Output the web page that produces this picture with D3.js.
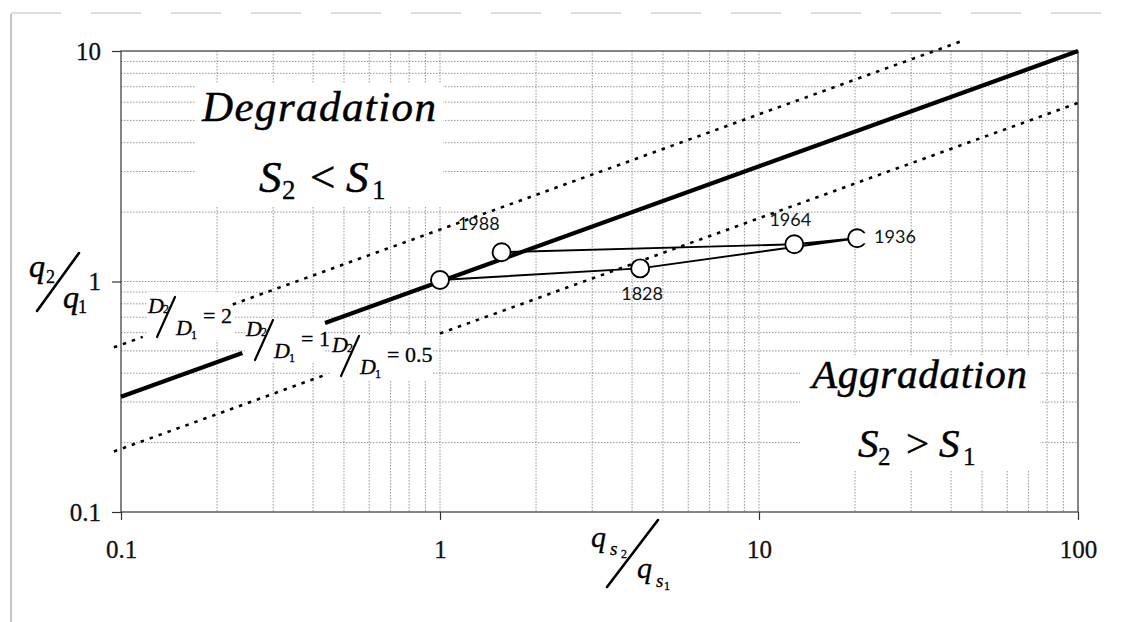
<!DOCTYPE html>
<html><head><meta charset="utf-8">
<script src="https://cdn.jsdelivr.net/npm/d3@7"></script>
<style>
html,body{margin:0;padding:0;background:#fff;}
svg{display:block;}
</style></head>
<body>
<svg id="chart" width="1130" height="622"></svg>
<script>
// ---------------- data ----------------
const xTickValues = [0.1, 1, 10, 100];
const xTickLabels = ["0.1", "1", "10", "100"];
const yTickValues = [0.1, 1, 10];
const yTickLabels = ["0.1", "1", "10"];

// observed points (path order)
const pointYears = ["", "1828", "1936", "1964", "1988"];
const qsRatio    = [1.0, 4.24, 20.3, 12.9, 1.56];   // q_s2 / q_s1
const qRatio     = [1.015, 1.14, 1.54, 1.45, 1.34]; // q2 / q1

// reference lines D2/D1 = 2, 1, 0.5 : segment end points [qs ratio, q ratio]
const lineRatios = [2, 1, 0.5];
const lineSegments = [
  [[[0.095, 0.518], [0.117, 0.575]], [[0.224, 0.795], [43.5, 11.08]]],
  [[[0.1, 0.316], [0.24, 0.49]], [[0.436, 0.66], [100, 10]]],
  [[[0.095, 0.183], [0.436, 0.393]], [[1, 0.595], [100, 5.95]]]
];

// ---------------- setup ----------------
const svg = d3.select("#chart");
const x = d3.scaleLog().domain([0.1, 100]).range([121, 1078]);
const y = d3.scaleLog().domain([0.1, 10]).range([512, 51]);
const serif = '"Liberation Serif","Times New Roman","DejaVu Serif",serif';

// outer scanned frame
svg.append("line").attr("x1", 11).attr("x2", 11).attr("y1", 14).attr("y2", 622)
  .attr("stroke", "#888").attr("stroke-width", 1);
svg.append("line").attr("x1", 11).attr("x2", 1130).attr("y1", 13).attr("y2", 13)
  .attr("stroke", "#bbb").attr("stroke-width", 1).attr("stroke-dasharray", "50,30");

// grid
const grid = svg.append("g");
const xGrid = x.ticks().filter(v => v > 0.1 + 1e-9 && v < 100 - 1e-9);
const yGrid = y.ticks().filter(v => v > 0.1 + 1e-9 && v < 10 - 1e-9);
grid.selectAll("line.vx").data(xGrid).join("line")
  .attr("x1", d => x(d)).attr("x2", d => x(d)).attr("y1", y(10)).attr("y2", y(0.1))
  .attr("stroke", "#8a8a8a").attr("stroke-width", 0.9).attr("stroke-dasharray", "1.5,1.5");
grid.selectAll("line.hy").data(yGrid).join("line")
  .attr("y1", d => y(d)).attr("y2", d => y(d)).attr("x1", x(0.1)).attr("x2", x(100))
  .attr("stroke", "#8a8a8a").attr("stroke-width", 0.9).attr("stroke-dasharray", "1.5,1.5");

// white label backgrounds that interrupt the grid
const boxes = [
  [195, 83, 248, 123],   // Degradation
  [800, 355, 240, 115],  // Aggradation
  [147, 292, 88, 48],    // D=2 label
  [245, 318, 80, 45],    // D=1 label
  [331, 335, 101, 46]    // D=0.5 label
];
svg.append("g").selectAll("rect").data(boxes).join("rect")
  .attr("x", d => d[0]).attr("y", d => d[1]).attr("width", d => d[2]).attr("height", d => d[3])
  .attr("fill", "#fff");

// plot border
svg.append("rect").attr("x", x(0.1)).attr("y", y(10))
  .attr("width", x(100) - x(0.1)).attr("height", y(0.1) - y(10))
  .attr("fill", "none").attr("stroke", "#444").attr("stroke-width", 1.3);

// axes
const yAxis = d3.axisLeft(y).tickValues(yTickValues)
  .tickFormat((d, i) => yTickLabels[i]).tickSize(9).tickSizeOuter(0).tickPadding(11);
const gy = svg.append("g").attr("transform", `translate(${x(0.1)},0)`).call(yAxis);
const xAxis = d3.axisBottom(x).tickValues(xTickValues)
  .tickFormat((d, i) => xTickLabels[i]).tickSize(8).tickSizeOuter(0).tickPadding(20);
const gx = svg.append("g").attr("transform", `translate(0,${y(0.1)})`).call(xAxis);
[gx, gy].forEach(g => {
  g.attr("font-family", null).attr("font-size", null);
  g.select(".domain").remove();
  g.selectAll(".tick line").attr("stroke", "#333").attr("stroke-width", 1.2);
  g.selectAll(".tick text").style("font-family", serif).style("font-size", "25px")
    .attr("fill", "#111").attr("stroke", "#111").attr("stroke-width", 0.3);
});

// reference lines
const segLine = d3.line().x(d => x(d[0])).y(d => y(d[1]));
lineRatios.forEach((r, i) => {
  svg.append("g").selectAll("path").data(lineSegments[i]).join("path")
    .attr("d", segLine)
    .attr("fill", "none").attr("stroke", "#000")
    .attr("stroke-width", r === 1 ? 4.2 : 2.6)
    .attr("stroke-dasharray", r === 1 ? null : "3.5,6");
});

// observed path
const pts = pointYears.map((yr, i) => ({year: yr, x: qsRatio[i], y: qRatio[i]}));
svg.append("path").datum(pts)
  .attr("d", d3.line().x(d => x(d.x)).y(d => y(d.y)))
  .attr("fill", "none").attr("stroke", "#000").attr("stroke-width", 1.9);
svg.append("g").selectAll("circle").data(pts).join("circle")
  .attr("cx", d => x(d.x)).attr("cy", d => y(d.y)).attr("r", 9)
  .attr("fill", "#fff").attr("stroke", "#000").attr("stroke-width", 1.9);

// opening of the 1936 marker ("C" look)
const p1936 = pts.find(d => d.year === "1936");
svg.append("rect").attr("x", x(p1936.x) + 5).attr("y", y(p1936.y) - 5)
  .attr("width", 8).attr("height", 10).attr("fill", "#fff");

// point labels
const labelOffset = {"1828": [2, 32, "middle"], "1936": [17, 5, "start"], "1964": [-4, -18, "middle"], "1988": [-2, -22, "end"]};
svg.append("g").selectAll("text").data(pts.filter(d => d.year)).join("text")
  .attr("x", d => x(d.x) + labelOffset[d.year][0])
  .attr("y", d => y(d.y) + labelOffset[d.year][1])
  .attr("text-anchor", d => labelOffset[d.year][2])
  .style("font-family", "Lato, 'DejaVu Sans', sans-serif").style("font-size", "18px").attr("fill", "#111")
  .text(d => d.year);

// helper to write a text piece
function piece(g, txt, px, py, size, italic, anchor) {
  return g.append("text").attr("x", px).attr("y", py)
    .style("font-family", serif).style("font-size", size + "px")
    .style("font-style", italic ? "italic" : "normal")
    .attr("text-anchor", anchor || "start").attr("fill", "#000")
    .attr("stroke", "#000").attr("stroke-width", size > 30 ? 0.5 : 0.3).text(txt);
}
function slash(g, x1, y1, x2, y2, w) {
  g.append("line").attr("x1", x1).attr("y1", y1).attr("x2", x2).attr("y2", y2)
    .attr("stroke", "#000").attr("stroke-width", w).attr("stroke-linecap", "round");
}
const ann = svg.append("g");

// region labels
piece(ann, "Degradation", 202, 121, 43, true).attr("textLength", 234).attr("lengthAdjust", "spacing");
piece(ann, "S", 259, 192, 45, true);
piece(ann, "2", 282, 199, 27, false);
piece(ann, "<", 310, 192, 45, false);
piece(ann, "S", 346, 192, 45, true);
piece(ann, "1", 372, 199, 27, false);

piece(ann, "Aggradation", 812, 388, 41, true).attr("textLength", 215).attr("lengthAdjust", "spacing");
piece(ann, "S", 858, 457, 41, true);
piece(ann, "2", 878, 465, 25, false);
piece(ann, ">", 906, 457, 41, false);
piece(ann, "S", 939, 457, 41, true);
piece(ann, "1", 963, 465, 25, false);

// D2/D1 labels
function dLabel(dx, dy, value) {
  const g = ann.append("g").attr("transform", `translate(${dx},${dy})`);
  piece(g, "D", 0, 0, 22, true);
  piece(g, "2", 15, 0, 12, false);
  slash(g, 9, 24, 27, -16, 2.2);
  piece(g, "D", 28, 22, 22, true);
  piece(g, "1", 43, 26, 12, false);
  piece(g, "= " + value, 55, 10, 22, false);
}
dLabel(148, 313, "2");
dLabel(246, 336, "1");
dLabel(332, 352, "0.5");

// y axis title  q2 / q1
piece(ann, "q", 29, 277, 32, true);
piece(ann, "2", 46, 283, 18, false);
slash(ann, 37, 311, 79, 253, 2.6);
piece(ann, "q", 63, 308, 32, true);
piece(ann, "1", 78, 313, 18, false);

// x axis title  qs2 / qs1
piece(ann, "q", 591, 547, 30, true);
piece(ann, "s", 610, 555, 19, true);
piece(ann, "2", 621, 558, 12, false);
slash(ann, 607, 587, 658, 520, 2.6);
piece(ann, "q", 637, 578, 30, true);
piece(ann, "s", 656, 587, 19, true);
piece(ann, "1", 664, 590, 12, false);
</script>
</body></html>
